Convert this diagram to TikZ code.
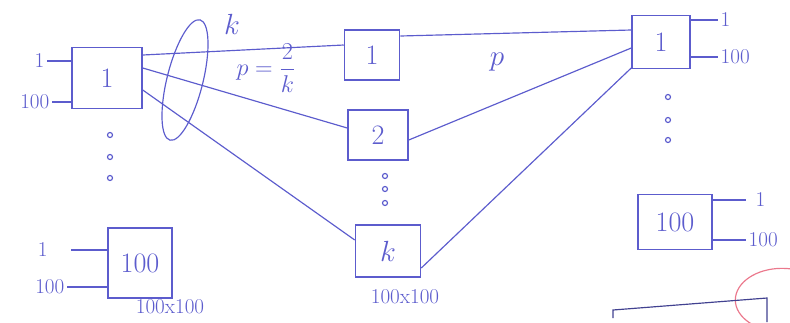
\documentclass[tikz,border=0pt]{standalone}
\usepackage{fontspec}
\usepackage{tikz}
\definecolor{penblue}{RGB}{92,92,205}
\definecolor{penred}{RGB}{235,120,140}
\begin{document}
\begin{tikzpicture}[x=0.03cm,y=-0.03cm,
    box/.style={draw=penblue,line width=1.3pt,inner sep=0pt,text=penblue,font=\fontsize{24}{26}\selectfont},
    small/.style={text=penblue,font=\fontsize{18}{20}\selectfont,inner sep=2pt},
    wire/.style={draw=penblue,line width=1pt},
    dot/.style={draw=penblue,line width=1pt}]
    \useasboundingbox (0,0) rectangle (790,322);
    % left column of switches
    \node [box,minimum width=2.1cm,minimum height=1.83cm] (l1) at (107,78) {1};
    \node [box,minimum width=1.92cm,minimum height=2.1cm] (l100) at (140,263) {100};
    \draw [wire] (l1.west |- 0,61) -- ++(-24,0) node [small,anchor=east] {1};
    \draw [wire] (l1.west |- 0,102) -- ++(-19,0) node [small,anchor=east] {100};
    \draw [wire] (l100.west |- 0,250) -- ++(-36,0) coordinate (a) ;
    \node [small,anchor=east] at ([xshift=-18pt]a) {1};
    \draw [wire] (l100.west |- 0,287) -- ++(-40,0) node [small,anchor=east] {100};
    \node [small] (l100dim) at (170,307) {100x100};
    \foreach \y in {135,157,178} \draw [dot] (110,\y) circle [radius=2.5];
    % middle column
    \node [box,minimum width=1.65cm,minimum height=1.5cm] (m1) at (372,55) {1};
    \node [box,minimum width=1.8cm,minimum height=1.5cm] (m2) at (378,135) {2};
    \node [box,minimum width=1.95cm,minimum height=1.56cm] (mk) at (388,251) {$k$};
    \node [small] (mkdim) at (405,297) {100x100};
    \foreach \y in {176,189,203} \draw [dot] (385,\y) circle [radius=2.5];
    % right column
    \node [box,minimum width=1.74cm,minimum height=1.59cm] (r1) at (661,42) {1};
    \node [box,minimum width=2.22cm,minimum height=1.65cm] (r100) at (675,222) {100};
    \draw [wire] (r1.east |- 0,20) -- ++(27,0) node [small,anchor=west] {1};
    \draw [wire] (r1.east |- 0,57) -- ++(27,0) node [small,anchor=west] {100};
    \draw [wire] (r100.east |- 0,200) -- ++(33,0) node [small,anchor=west,xshift=6pt] {1};
    \draw [wire] (r100.east |- 0,240) -- ++(33,0) node [small,anchor=west] {100};
    \foreach \y in {97,120,140} \draw [dot] (668,\y) circle [radius=2.5];
    % links
    \draw [wire] (l1.east |- 0,55) -- (m1.west |- 0,45);
    \draw [wire] (l1.east |- 0,68) -- (m2.west |- 0,128);
    \draw [wire] (l1.east |- 0,90) -- (mk.west |- 0,240);
    \draw [wire] (m1.east |- 0,36) -- (r1.west |- 0,30);
    \draw [wire] (m2.east |- 0,140) -- (r1.west |- 0,48);
    \draw [wire] (mk.east |- 0,268) -- (r1.west |- 0,68);
    \draw [wire] (185,80) ellipse [x radius=0.54cm,y radius=1.86cm,rotate=-14];
    \node [small,font=\fontsize{26}{28}\selectfont] (k) at (232,24) {$k$};
    \node [small,font=\fontsize{21}{23}\selectfont] (prob) at (266,68) {$p=\displaystyle\frac{2}{k}$};
    \node [small,font=\fontsize{26}{28}\selectfont] (p) at (497,62) {$p$};
    % next sketch, cut off
    \draw [penred,line width=1pt] (782,300) ellipse [x radius=1.4cm,y radius=0.95cm];
    \draw [penblue!70!black,line width=1pt] (613,318) -- (613,310) -- (767,298) -- (767,322);
\end{tikzpicture}
\end{document}
